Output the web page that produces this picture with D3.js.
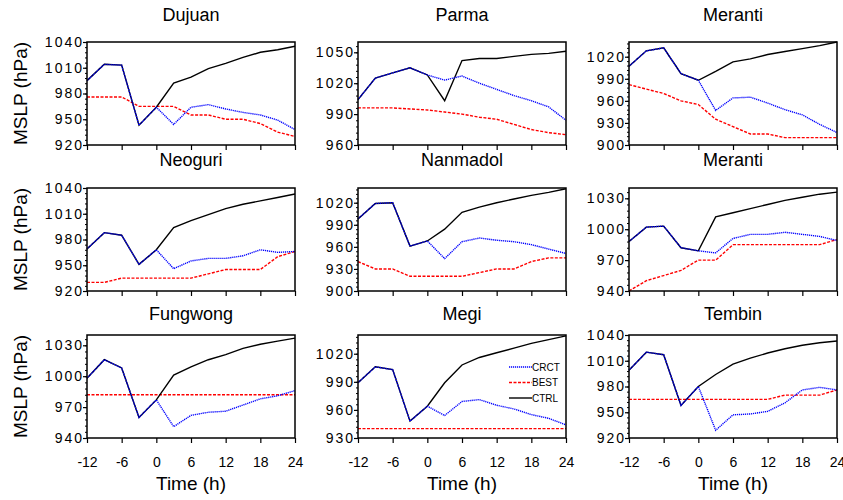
<!DOCTYPE html>
<html>
<head>
<meta charset="utf-8">
<script src="https://cdn.jsdelivr.net/npm/d3@7"></script>
<style>
  body { margin: 0; background: #fff; }
  text { font-family: "Liberation Sans", Arial, sans-serif; fill: #000; }
</style>
</head>
<body>
<div id="chart"></div>
<script>
// Forecast hours
const times = [-12, -9, -6, -3, 0, 3, 6, 9, 12, 15, 18, 21, 24];
const xTicks = [-12, -6, 0, 6, 12, 18, 24];

// Storm names, one per panel (row by row)
const storms = ["Dujuan", "Parma", "Meranti", "Neoguri", "Nanmadol", "Meranti", "Fungwong", "Megi", "Tembin"];

// Y-axis range of each panel
const yDomains = [
  [920, 1040], [960, 1060], [900, 1040],
  [920, 1040], [900, 1040], [940, 1040],
  [940, 1040], [930, 1040], [920, 1040]
];

// CRCT series (hPa)
const crct = [
  [995, 1014, 1013, 943, 964, 944, 964, 967, 962, 958, 955, 949, 938],
  [1004, 1025, 1030, 1035, 1028, 1023, 1027, 1020, 1014, 1008, 1003, 997, 984],
  [1007, 1028, 1032, 997, 988, 947, 964, 965, 957, 948, 941, 928, 917],
  [969, 988, 985, 951, 968, 946, 955, 958, 958, 961, 968, 965, 966],
  [998, 1019, 1020, 961, 968, 944, 967, 972, 969, 967, 963, 957, 951],
  [988, 1002, 1003, 982, 979, 977, 991, 995, 995, 997, 995, 993, 989],
  [998, 1016, 1008, 960, 977, 951, 962, 965, 966, 972, 978, 981, 986],
  [989, 1006, 1003, 948, 964, 954, 969, 971, 965, 961, 955, 951, 944],
  [999, 1020, 1017, 958, 980, 929, 947, 948, 951, 961, 976, 979, 976]
];

// BEST track series (hPa)
const best = [
  [976, 976, 976, 965, 965, 965, 955, 955, 950, 950, 945, 935, 930],
  [996, 996, 996, 995, 994, 992, 990, 987, 985, 980, 975, 972, 970],
  [982, 976, 970, 960, 955, 935, 925, 915, 915, 910, 910, 910, 910],
  [930, 930, 935, 935, 935, 935, 935, 940, 945, 945, 945, 960, 966],
  [940, 930, 930, 920, 920, 920, 920, 925, 930, 930, 940, 945, 945],
  [940, 950, 955, 960, 970, 970, 985, 985, 985, 985, 985, 985, 990],
  [982, 982, 982, 982, 982, 982, 982, 982, 982, 982, 982, 982, 982],
  [940, 940, 940, 940, 940, 940, 940, 940, 940, 940, 940, 940, 940],
  [965, 965, 965, 965, 965, 965, 965, 965, 965, 970, 970, 970, 976]
];

// CTRL series (hPa)
const ctrl = [
  [995, 1014, 1013, 943, 964, 992, 999, 1009, 1015, 1022, 1028, 1031, 1035],
  [1004, 1025, 1030, 1035, 1028, 1003, 1042, 1044, 1044, 1046, 1048, 1049, 1051],
  [1007, 1028, 1032, 997, 988, 1000, 1013, 1017, 1023, 1027, 1031, 1035, 1040],
  [969, 988, 985, 951, 968, 994, 1002, 1009, 1016, 1021, 1025, 1029, 1033],
  [998, 1019, 1020, 961, 968, 984, 1007, 1014, 1020, 1025, 1030, 1034, 1039],
  [988, 1002, 1003, 982, 979, 1012, 1016, 1020, 1024, 1028, 1031, 1034, 1036],
  [998, 1016, 1008, 960, 977, 1001, 1009, 1016, 1021, 1027, 1031, 1034, 1037],
  [989, 1006, 1003, 948, 964, 989, 1008, 1016, 1021, 1026, 1031, 1035, 1039],
  [999, 1020, 1017, 958, 980, 994, 1006, 1013, 1019, 1024, 1028, 1031, 1033]
];

// Legend entries
const legendNames = ["CRCT", "BEST", "CTRL"];

// Size of the SVG container and panel grid
const width = 843;
const height = 500;
const colLeft = [87, 358, 629];
const rowTop = [42, 188, 335];
const titleY = [21, 166, 320];
const pw = 208;
const ph = 103;

const styles = {
  CRCT: { color: "#0000ff", dash: "1.2,0.8", width: 1.4 },
  BEST: { color: "#ff0000", dash: "3,1.5", width: 1.4 },
  CTRL: { color: "#000000", dash: null, width: 1.4 }
};

const svg = d3.select("#chart")
  .append("svg")
  .attr("width", width)
  .attr("height", height);

const xScale = d3.scaleLinear().domain([-12, 24]).range([0, pw]);

storms.forEach(function(name, i) {
  const row = Math.floor(i / 3);
  const col = i % 3;
  const g = svg.append("g")
    .attr("transform", "translate(" + colLeft[col] + "," + rowTop[row] + ")");

  const yScale = d3.scaleLinear().domain(yDomains[i]).range([ph, 0]);
  const [lo, hi] = yDomains[i];

  // Title
  svg.append("text")
    .attr("x", colLeft[col] + pw / 2)
    .attr("y", titleY[row])
    .attr("text-anchor", "middle")
    .style("font-size", "18px")
    .text(name);

  // Minor y ticks
  g.append("g")
    .call(d3.axisLeft(yScale).tickValues(d3.range(lo, hi + 0.1, 6)).tickSize(2).tickFormat(""))
    .call(a => a.select(".domain").remove())
    .selectAll("line").attr("stroke-width", 1);

  // Major y ticks
  const yAxis = g.append("g")
    .call(d3.axisLeft(yScale).tickValues(d3.range(lo, hi + 0.1, 30)).tickSize(4).tickPadding(-1).tickFormat(d => String(d)))
    .call(a => a.select(".domain").remove());
  yAxis.selectAll("line").attr("stroke-width", 1.2);
  yAxis.selectAll("text")
    .style("font-size", "14px")
    .style("letter-spacing", "2px")
    .attr("font-family", null);

  // X ticks
  const xAxis = g.append("g")
    .attr("transform", "translate(0," + ph + ")")
    .call(d3.axisBottom(xScale).tickValues(xTicks).tickSize(5).tickPadding(14).tickFormat(row === 2 ? d => String(d) : ""))
    .call(a => a.select(".domain").remove());
  xAxis.selectAll("line").attr("stroke-width", 1.2);
  xAxis.selectAll("text").style("font-size", "14px").attr("font-family", null);

  // Lines
  const line = d3.line()
    .x((d, k) => xScale(times[k]))
    .y(d => yScale(d));

  [["BEST", best[i]], ["CTRL", ctrl[i]], ["CRCT", crct[i]]].forEach(function(s) {
    const st = styles[s[0]];
    g.append("path")
      .datum(s[1])
      .attr("d", line)
      .attr("fill", "none")
      .attr("stroke", st.color)
      .attr("stroke-width", st.width)
      .attr("stroke-dasharray", st.dash);
  });

  // Frame
  g.append("rect")
    .attr("width", pw)
    .attr("height", ph)
    .attr("fill", "none")
    .attr("stroke", "#000")
    .attr("stroke-width", 1.5);

  // Y label on the left column
  if (col === 0) {
    svg.append("text")
      .attr("transform", "translate(27," + (rowTop[row] + ph / 2) + ") rotate(-90)")
      .attr("text-anchor", "middle")
      .style("font-size", "19px")
      .text("MSLP (hPa)");
  }

  // X label on the bottom row
  if (row === 2) {
    svg.append("text")
      .attr("x", colLeft[col] + pw / 2)
      .attr("y", 490)
      .attr("text-anchor", "middle")
      .style("font-size", "19px")
      .text("Time (h)");
  }

  // Legend inside the Megi panel
  if (name === "Megi") {
    legendNames.forEach(function(n, k) {
      const ly = 32 + k * 15.5;
      g.append("line")
        .attr("x1", 151).attr("x2", 174)
        .attr("y1", ly).attr("y2", ly)
        .attr("stroke", styles[n].color)
        .attr("stroke-width", 1.4)
        .attr("stroke-dasharray", styles[n].dash);
      g.append("text")
        .attr("x", 174)
        .attr("y", ly + 3.5)
        .style("font-size", "10px")
        .text(n);
    });
  }
});
</script>
</body>
</html>
